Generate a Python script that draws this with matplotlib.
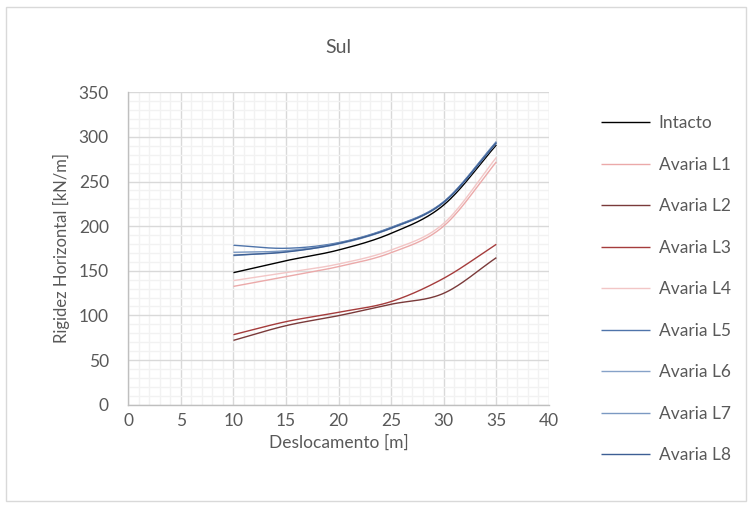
import numpy as np
import matplotlib
matplotlib.use("Agg")
import matplotlib.pyplot as plt
from matplotlib.patches import Rectangle

plt.rcParams['font.family'] = ['Lato', 'DejaVu Sans']

# Displacement [m]
deslocamento = [10, 15, 20, 25, 30, 35]

# Horizontal stiffness [kN/m] per case
intacto = [147.9, 161.3, 173.3, 192.0, 223.8, 291.0]
avaria_l1 = [132.5, 143.4, 154.7, 170.3, 200.2, 272.0]
avaria_l2 = [72.0, 88.5, 99.7, 112.5, 124.8, 164.7]
avaria_l3 = [78.4, 93.0, 103.5, 115.5, 141.6, 179.7]
avaria_l4 = [139.0, 147.9, 157.6, 173.3, 203.2, 277.0]
avaria_l5 = [178.6, 175.2, 181.5, 198.7, 227.5, 294.7]
avaria_l6 = [167.0, 171.4, 180.0, 197.5, 226.5, 293.0]
avaria_l7 = [170.7, 172.5, 181.0, 198.2, 227.0, 294.0]
avaria_l8 = [167.5, 171.0, 180.5, 197.8, 226.8, 293.5]

series = [
    ("Intacto", intacto, "#000000"),
    ("Avaria L1", avaria_l1, "#EBA9A9"),
    ("Avaria L2", avaria_l2, "#7A3A3A"),
    ("Avaria L3", avaria_l3, "#A53C3C"),
    ("Avaria L4", avaria_l4, "#F2C6C6"),
    ("Avaria L5", avaria_l5, "#4F74AA"),
    ("Avaria L6", avaria_l6, "#86A2C8"),
    ("Avaria L7", avaria_l7, "#7B99C2"),
    ("Avaria L8", avaria_l8, "#3D5F94"),
]


def smooth(xs, ys, n=30):
    """Catmull-Rom style smoothing between consecutive points."""
    xs = np.asarray(xs, float)
    ys = np.asarray(ys, float)
    px = np.concatenate([[2 * xs[0] - xs[1]], xs, [2 * xs[-1] - xs[-2]]])
    py = np.concatenate([[2 * ys[0] - ys[1]], ys, [2 * ys[-1] - ys[-2]]])
    ox, oy = [], []
    t = np.linspace(0, 1, n, endpoint=False)
    for i in range(1, len(px) - 2):
        for arr, out in ((px, ox), (py, oy)):
            p0, p1, p2, p3 = arr[i - 1], arr[i], arr[i + 1], arr[i + 2]
            out.extend(0.5 * ((2 * p1) + (-p0 + p2) * t
                              + (2 * p0 - 5 * p1 + 4 * p2 - p3) * t ** 2
                              + (-p0 + 3 * p1 - 3 * p2 + p3) * t ** 3))
    ox.append(xs[-1])
    oy.append(ys[-1])
    return np.array(ox), np.array(oy)


fig = plt.figure(figsize=(7.53, 5.08), dpi=100)
ax = fig.add_axes([0.1704, 0.2035, 0.5586, 0.6148])

txt = "#595959"
fs = 12.5
for name, vals, col in series:
    sx, sy = smooth(deslocamento, vals)
    ax.plot(sx, sy, color=col, lw=1.0, label=name, solid_capstyle="butt")

ax.set_xlim(0, 40)
ax.set_ylim(0, 350)
ax.set_xticks(np.arange(0, 41, 5))
ax.set_yticks(np.arange(0, 351, 50))
ax.set_xticks(np.arange(0, 41, 1), minor=True)
ax.set_yticks(np.arange(0, 351, 10), minor=True)
ax.grid(which="major", color="#D9D9D9", lw=1.0)
ax.grid(which="minor", color="#F2F2F2", lw=1.0)
ax.set_axisbelow(True)
ax.tick_params(which="both", length=0, labelsize=fs, colors=txt)
ax.tick_params(axis="y", which="major", pad=14)
ax.tick_params(axis="x", which="major", pad=6)
for s in ("top", "right"):
    ax.spines[s].set_visible(False)
for s in ("left", "bottom"):
    ax.spines[s].set_color("#BFBFBF")
    ax.spines[s].set_linewidth(1.0)

ax.set_xlabel("Deslocamento [m]", fontsize=fs, color=txt, labelpad=4)
ax.set_ylabel("Rigidez Horizontal [kN/m]", fontsize=12, color=txt, labelpad=6)
ax.set_title("Sul", fontsize=14, color=txt, pad=28)

leg = fig.legend(loc="upper left", bbox_to_anchor=(0.778, 0.804), frameon=False,
                 fontsize=fs, handlelength=2.8, handletextpad=0.5,
                 labelspacing=1.47, labelcolor=txt)

fig.patches.append(Rectangle((6 / 753, 7 / 508), 740 / 753, 494 / 508,
                             transform=fig.transFigure, fill=False,
                             edgecolor="#D9D9D9", lw=1.0))

fig.savefig("out.png", dpi=100)
